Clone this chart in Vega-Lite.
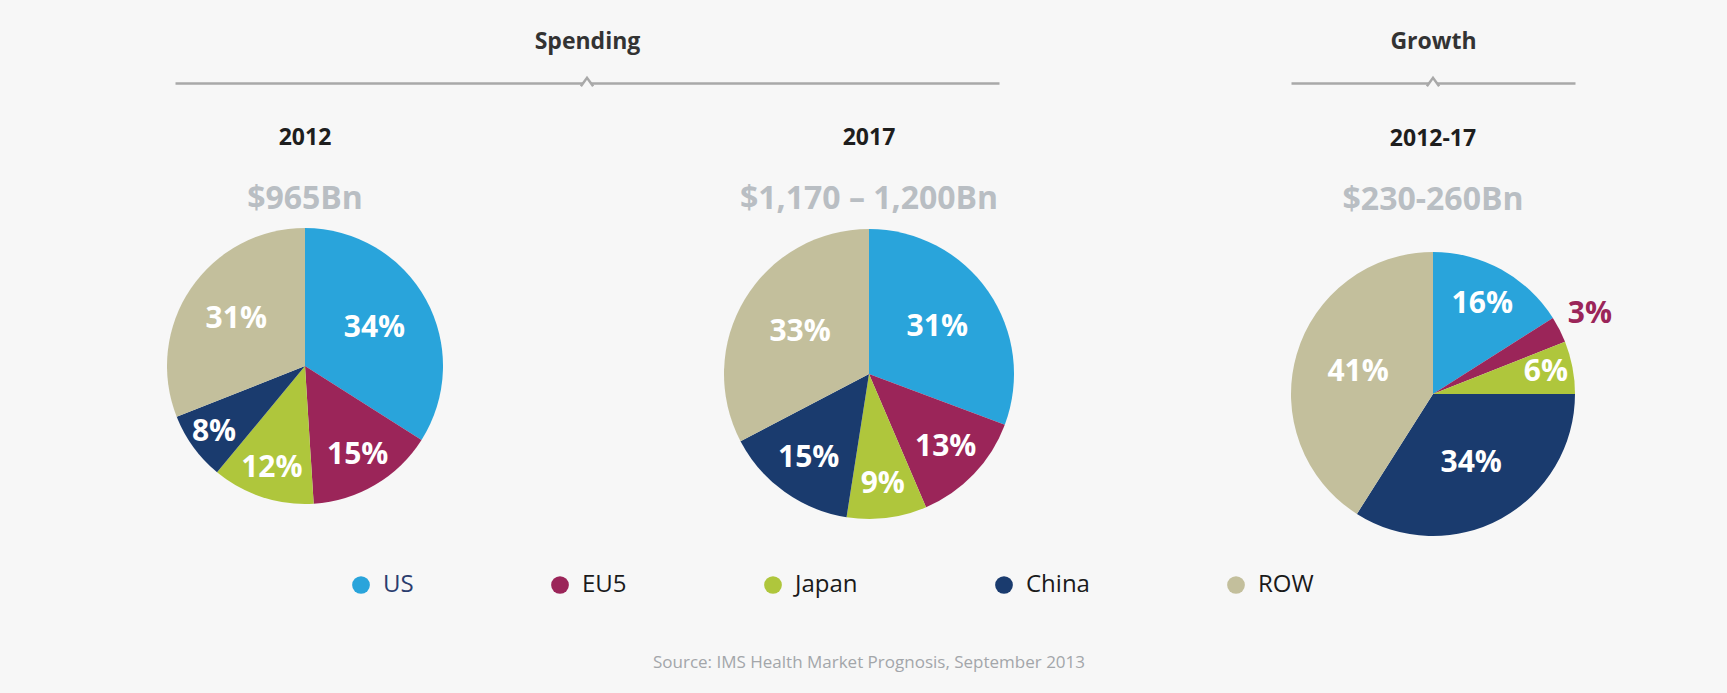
{
  "$schema": "https://vega.github.io/schema/vega-lite/v6.json",
  "background": "#f7f7f7",
  "padding": {"left": 23, "top": 30, "right": 12, "bottom": 24},
  "datasets": {
    "p2012": [
      {"region": "US", "k": 1, "share": 0.34},
      {"region": "EU5", "k": 2, "share": 0.15},
      {"region": "Japan", "k": 3, "share": 0.12},
      {"region": "China", "k": 4, "share": 0.08},
      {"region": "ROW", "k": 5, "share": 0.31}
    ],
    "p2017": [
      {"region": "US", "k": 1, "share": 0.31},
      {"region": "EU5", "k": 2, "share": 0.13},
      {"region": "Japan", "k": 3, "share": 0.09},
      {"region": "China", "k": 4, "share": 0.15},
      {"region": "ROW", "k": 5, "share": 0.33}
    ],
    "growth": [
      {"region": "US", "k": 1, "share": 0.16},
      {"region": "EU5", "k": 2, "share": 0.03},
      {"region": "Japan", "k": 3, "share": 0.06},
      {"region": "China", "k": 4, "share": 0.34},
      {"region": "ROW", "k": 5, "share": 0.41}
    ]
  },
  "title": {
    "text": "Source: IMS Health Market Prognosis, September 2013",
    "orient": "bottom",
    "anchor": "middle",
    "font": "Open Sans",
    "fontSize": 17,
    "fontWeight": "normal",
    "color": "#a3a6aa",
    "offset": 58
  },
  "spacing": 0,
  "hconcat": [
    {
      "center": true,
      "spacing": 35,
      "vconcat": [
        {
          "width": 824,
          "height": 2,
          "data": {"values": [{"h": "Spending"}]},
          "mark": {"type": "point", "shape": "M-1,0.35L0,-1L1,0.35", "size": 150, "filled": false, "fill": "#f7f7f7", "fillOpacity": 1, "stroke": "#a9a9a9", "strokeWidth": 2.5, "opacity": 1},
          "encoding": {
            "x": {"datum": 0.5, "type": "quantitative", "scale": {"domain": [0, 1]},
                  "axis": {"orient": "top", "title": "Spending", "labels": false, "ticks": false, "grid": false, "domain": true}},
            "y": {"datum": 0.5, "type": "quantitative", "scale": {"domain": [0, 1]}, "axis": null}
          }
        },
        {
          "spacing": 0,
          "hconcat": [
            {
              "width": 564,
              "height": 284,
              "title": {"text": "2012", "subtitle": "$965Bn"},
              "data": {"name": "p2012"},
              "layer": [
                {"mark": {"type": "arc", "outerRadius": 138}},
                {"mark": {"type": "text", "fill": "white", "fontWeight": "bold", "fontSize": 30, "font": "Open Sans"},
                 "encoding": {
                   "radius": {"field": "share", "type": "quantitative", "legend": null,
                              "scale": {"type": "linear", "domain": [0.06, 0.35], "range": [115, 78], "zero": false, "clamp": true}},
                   "text": {"condition": {"test": "datum.share < 0.05", "value": ""}, "field": "share", "type": "quantitative", "format": ".0%"}
                 }}
              ],
              "encoding": {
                "theta": {"field": "share", "type": "quantitative", "stack": true},
                "order": {"field": "k", "type": "quantitative"},
                "color": {"field": "region", "type": "nominal", "scale": {"domain": ["US", "EU5", "Japan", "China", "ROW"]},
                          "legend": {"encode": {"labels": {"update": {"fill": {"signal": "datum.value === 'US' ? '#2b3d6e' : '#1a1a1a'"}}}}}}
              }
            },
            {
              "width": 564,
              "height": 300,
              "title": {"text": "2017", "subtitle": "$1,170 – 1,200Bn"},
              "data": {"name": "p2017"},
              "layer": [
                {"mark": {"type": "arc", "outerRadius": 145}},
                {"mark": {"type": "text", "fill": "white", "fontWeight": "bold", "fontSize": 30, "font": "Open Sans"},
                 "encoding": {
                   "radius": {"field": "share", "type": "quantitative", "legend": null,
                              "scale": {"type": "linear", "domain": [0.06, 0.35], "range": [115, 78], "zero": false, "clamp": true}},
                   "text": {"condition": {"test": "datum.share < 0.05", "value": ""}, "field": "share", "type": "quantitative", "format": ".0%"}
                 }}
              ],
              "encoding": {
                "theta": {"field": "share", "type": "quantitative", "stack": true},
                "order": {"field": "k", "type": "quantitative"},
                "color": {"field": "region", "type": "nominal", "scale": {"domain": ["US", "EU5", "Japan", "China", "ROW"]},
                          "legend": {"encode": {"labels": {"update": {"fill": {"signal": "datum.value === 'US' ? '#2b3d6e' : '#1a1a1a'"}}}}}}
              }
            }
          ]
        }
      ]
    },
    {
      "center": true,
      "spacing": 35,
      "vconcat": [
        {
          "width": 284,
          "height": 2,
          "data": {"values": [{"h": "Growth"}]},
          "mark": {"type": "point", "shape": "M-1,0.35L0,-1L1,0.35", "size": 150, "filled": false, "fill": "#f7f7f7", "fillOpacity": 1, "stroke": "#a9a9a9", "strokeWidth": 2.5, "opacity": 1},
          "encoding": {
            "x": {"datum": 0.5, "type": "quantitative", "scale": {"domain": [0, 1]},
                  "axis": {"orient": "top", "title": "Growth", "labels": false, "ticks": false, "grid": false, "domain": true}},
            "y": {"datum": 0.5, "type": "quantitative", "scale": {"domain": [0, 1]}, "axis": null}
          }
        },
        {
          "width": 564,
          "height": 322,
          "title": {"text": "2012-17", "subtitle": "$230-260Bn"},
          "data": {"name": "growth"},
          "layer": [
            {"mark": {"type": "arc", "outerRadius": 142}},
            {"mark": {"type": "text", "fill": "white", "fontWeight": "bold", "fontSize": 30, "font": "Open Sans"},
             "encoding": {
               "radius": {"field": "share", "type": "quantitative", "legend": null,
                          "scale": {"type": "linear", "domain": [0.06, 0.35], "range": [115, 78], "zero": false, "clamp": true}},
               "text": {"condition": {"test": "datum.share < 0.05", "value": ""}, "field": "share", "type": "quantitative", "format": ".0%"}
             }},
            {"mark": {"type": "text", "fill": "#9b2559", "fontWeight": "bold", "fontSize": 30, "font": "Open Sans", "radius": 176},
             "encoding": {
               "text": {"condition": {"test": "datum.share >= 0.05", "value": ""}, "field": "share", "type": "quantitative", "format": ".0%"}
             }}
          ],
          "encoding": {
            "theta": {"field": "share", "type": "quantitative", "stack": true},
            "order": {"field": "k", "type": "quantitative"},
            "color": {"field": "region", "type": "nominal", "scale": {"domain": ["US", "EU5", "Japan", "China", "ROW"]},
                      "legend": {"encode": {"labels": {"update": {"fill": {"signal": "datum.value === 'US' ? '#2b3d6e' : '#1a1a1a'"}}}}}}
          }
        }
      ]
    }
  ],
  "resolve": {"scale": {"theta": "independent", "radius": "shared", "x": "independent", "y": "independent"}},
  "config": {
    "font": "Open Sans",
    "view": {"stroke": null},
    "axis": {"domainColor": "#a9a9a9", "domainWidth": 2.5, "titleFont": "Open Sans", "titleFontSize": 23, "titleFontWeight": "bold", "titleColor": "#333333", "titlePadding": 30},
    "title": {
      "anchor": "middle",
      "font": "Open Sans",
      "fontSize": 23,
      "fontWeight": "bold",
      "color": "#1e1e1e",
      "subtitleFont": "Open Sans",
      "subtitleFontSize": 32,
      "subtitleFontWeight": "bold",
      "subtitleColor": "#b9bec3",
      "subtitlePadding": 34,
      "offset": 9
    },
    "range": {"category": ["#29a4db", "#9b2559", "#afc63c", "#1a3b6e", "#c3bf9c"]},
    "legend": {
      "orient": "none",
      "legendX": 326,
      "legendY": 490,
      "direction": "horizontal",
      "title": null,
      "symbolType": "circle",
      "symbolSize": 314,
      "symbolStrokeWidth": 0,
      "labelFont": "Open Sans",
      "labelFontSize": 24,
      "labelColor": "#1a1a1a",
      "labelOffset": 10,
      "columnPadding": 134,
      "padding": 0
    }
  }
}
